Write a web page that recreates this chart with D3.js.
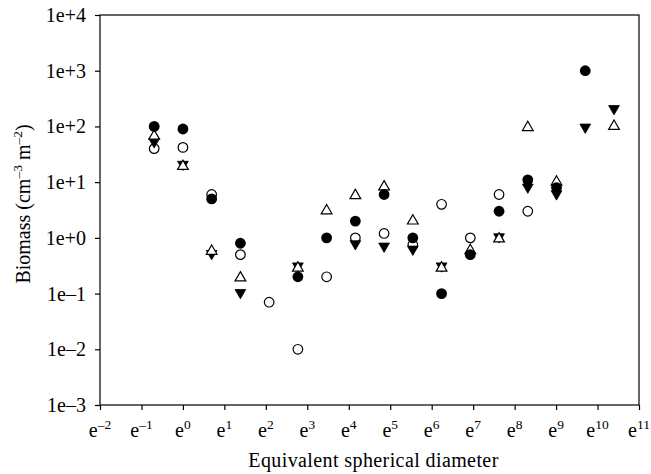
<!DOCTYPE html>
<html lang="en">
<head>
    <meta charset="UTF-8">
    <title>Biomass by size</title>
    <script src="https://d3js.org/d3.v7.min.js"></script>
    <style>
        body {margin:0;background:#fff}
        text {font-family:"Liberation Serif","Times New Roman",serif;fill:#000}
    </style>
</head>
<body>
    <div id="chart"></div>
    <script>
        // size classes (equivalent spherical diameter), octave steps
        var diameters = [0.5, 1, 2, 4, 8, 16, 32, 64, 128, 256, 512, 1024, 2048, 4096, 8192, 16384, 32768];
        // biomass per series (null = not present)
        var filledCircle  = [100, 90, 5, 0.8, null, 0.2, 1, 2, 6, 1, 0.1, 0.5, 3, 11, 8, 1000, null];
        var openCircle    = [40, 42, 6, 0.5, 0.07, 0.01, 0.2, 1, 1.2, 0.75, 4, 1, 6, 3, null, null, null];
        var openTriangle  = [70, 20, 0.6, 0.2, null, 0.3, 3.2, 6, 8.6, 2.1, 0.3, 0.62, 1, 100, 10.5, null, 105];
        var filledTriDown = [51, 20, 0.5, 0.1, null, 0.3, null, 0.75, 0.68, 0.6, 0.3, null, 1, 7.8, 5.9, 93, 200];
        var xTicks = d3.range(-2, 12);
        var yTicks = [1e-3, 1e-2, 1e-1, 1e0, 1e1, 1e2, 1e3, 1e4];
        var yTickLabels = ["1e\u20133", "1e\u20132", "1e\u20131", "1e+0", "1e+1", "1e+2", "1e+3", "1e+4"];

        var W = 651, H = 474;
        var margin = {top: 15, right: 12, bottom: 69, left: 100};
        var w = W - margin.left - margin.right;
        var h = H - margin.top - margin.bottom;

        var svg = d3.select("#chart").append("svg")
            .attr("width", W)
            .attr("height", H);
        var g = svg.append("g")
            .attr("transform", `translate(${margin.left},${margin.top})`);

        var x = d3.scaleLog().base(Math.E)
            .domain([Math.exp(-2), Math.exp(11)])
            .range([0, w]);
        var y = d3.scaleLog()
            .domain([1e-3, 1e4])
            .range([h, 0]);

        // frame
        g.append("rect")
            .attr("width", w).attr("height", h)
            .attr("fill", "none").attr("stroke", "#000").attr("stroke-width", 1.2);

        g.append("g")
            .attr("transform", `translate(0,${h})`)
            .call(d3.axisBottom(x).tickValues(xTicks.map(k => Math.exp(k))).tickSize(5).tickFormat(""));
        g.append("g")
            .call(d3.axisLeft(y).tickValues(yTicks).tickSize(5).tickFormat(""));
        g.selectAll(".domain").remove();
        g.selectAll(".tick line").attr("stroke", "#000").attr("stroke-width", 1.2);

        // x tick labels e^k
        var xl = g.append("g").selectAll("text")
            .data(xTicks).enter().append("text")
            .attr("x", k => x(Math.exp(k)))
            .attr("y", h + 32)
            .attr("text-anchor", "middle")
            .style("font-size", "20px");
        xl.append("tspan").text("e");
        xl.append("tspan")
            .attr("dy", -8)
            .style("font-size", "13.5px")
            .text(k => (k < 0 ? "\u2013" + (-k) : "" + k));

        // y tick labels
        g.append("g").selectAll("text")
            .data(yTicks).enter().append("text")
            .attr("x", -14)
            .attr("y", d => y(d))
            .attr("dy", "0.35em")
            .attr("text-anchor", "end")
            .style("font-size", "20px")
            .text((d, i) => yTickLabels[i]);

        // axis titles
        g.append("text")
            .attr("x", w / 2 + 4)
            .attr("y", h + 62)
            .attr("text-anchor", "middle")
            .style("font-size", "20px")
            .style("letter-spacing", "0.4px")
            .text("Equivalent spherical diameter");

        var yt = g.append("text")
            .attr("transform", "rotate(-90)")
            .attr("x", -h / 2 + 6)
            .attr("y", -margin.left + 30)
            .attr("text-anchor", "middle")
            .style("font-size", "20px");
        yt.append("tspan").text("Biomass (cm");
        yt.append("tspan").attr("dy", -8).style("font-size", "13.5px").text("\u20133");
        yt.append("tspan").attr("dy", 8).text(" m");
        yt.append("tspan").attr("dy", -8).style("font-size", "13.5px").text("\u20132");
        yt.append("tspan").attr("dy", 8).text(")");

        function pts(vals) {
            return diameters.map((d, i) => ({d: d, v: vals[i]})).filter(p => p.v != null);
        }

        var tri = d3.symbol().type(d3.symbolTriangle).size(50);

        // open circles
        g.append("g").selectAll("circle")
            .data(pts(openCircle)).enter().append("circle")
            .attr("cx", p => x(p.d)).attr("cy", p => y(p.v)).attr("r", 4.8)
            .attr("fill", "#fff").attr("stroke", "#000").attr("stroke-width", 1.2);

        // filled down-triangles
        g.append("g").selectAll("path")
            .data(pts(filledTriDown)).enter().append("path")
            .attr("d", tri)
            .attr("transform", p => `translate(${x(p.d)},${y(p.v) - 1}) rotate(180)`)
            .attr("fill", "#000").attr("stroke", "#000").attr("stroke-width", 0.8);

        // open up-triangles
        g.append("g").selectAll("path")
            .data(pts(openTriangle)).enter().append("path")
            .attr("d", tri)
            .attr("transform", p => `translate(${x(p.d)},${y(p.v) + 1})`)
            .attr("fill", "#fff").attr("stroke", "#000").attr("stroke-width", 1.2);

        // filled circles
        g.append("g").selectAll("circle")
            .data(pts(filledCircle)).enter().append("circle")
            .attr("cx", p => x(p.d)).attr("cy", p => y(p.v)).attr("r", 5.4)
            .attr("fill", "#000");
    </script>
</body>
</html>
